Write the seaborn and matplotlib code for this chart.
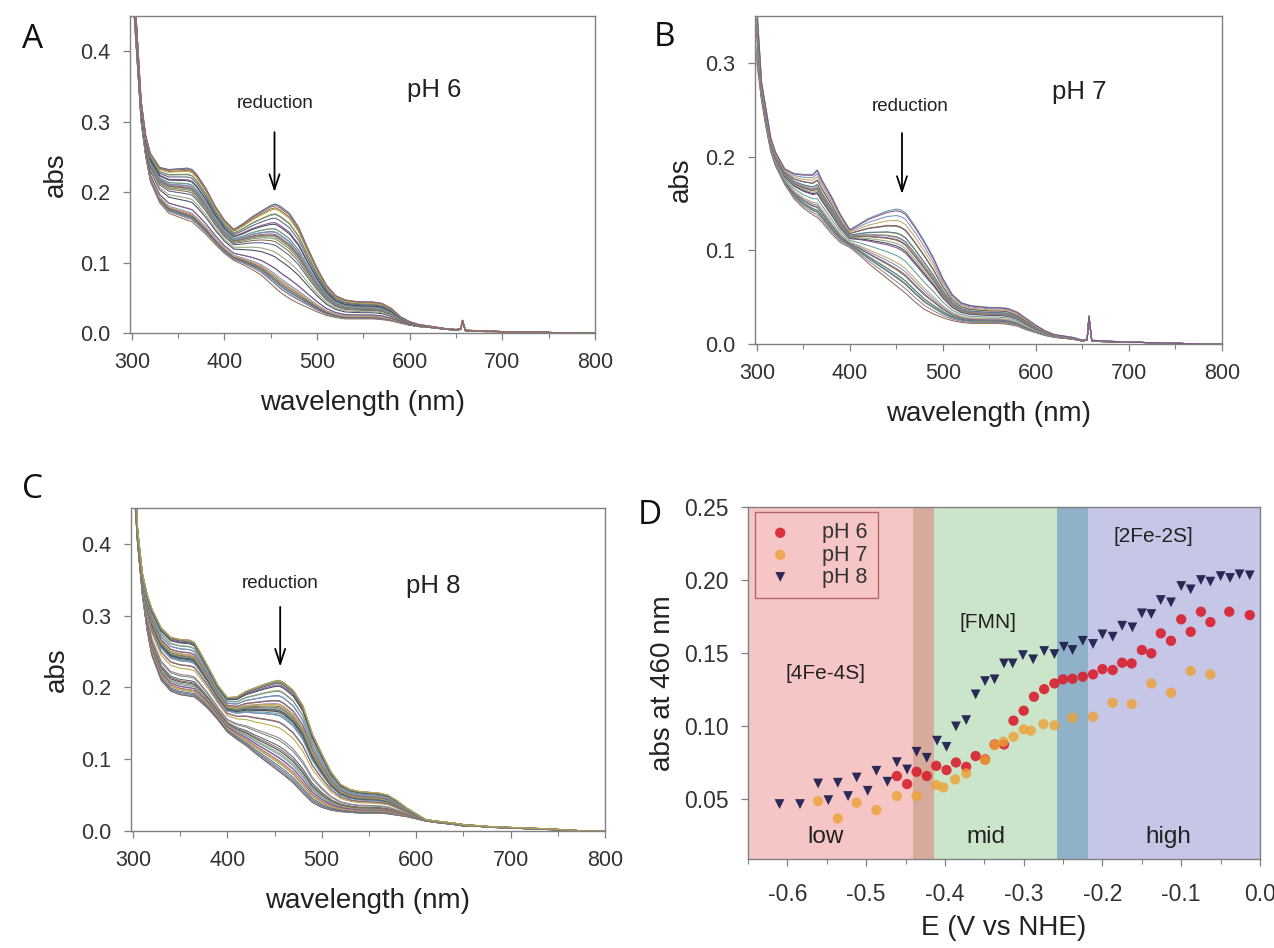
import numpy as np
import pandas as pd
import matplotlib
matplotlib.use("Agg")
import matplotlib.pyplot as plt
from matplotlib.ticker import MultipleLocator, FormatStrFormatter
import seaborn as sns

# ---------------- data ----------------
wavelength = [300, 305, 310, 315, 320, 330, 340, 350, 360, 365, 370, 380, 390, 400, 410,
              420, 430, 440, 450, 455, 460, 470, 480, 490, 500, 510, 520, 530, 540, 550,
              560, 570, 580, 590, 600, 610, 620, 640, 650, 655, 657, 660, 680, 700, 740,
              780, 800]

# pH 6 spectra: fully oxidised (top) and most reduced (bottom)
A_ox = [0.55, 0.44, 0.33, 0.28, 0.255, 0.235, 0.232, 0.233, 0.234, 0.232, 0.225, 0.205, 0.180,
        0.160, 0.147, 0.155, 0.165, 0.173, 0.181, 0.183, 0.180, 0.170, 0.150, 0.120, 0.092,
        0.068, 0.053, 0.047, 0.045, 0.044, 0.044, 0.042, 0.035, 0.023, 0.016, 0.012, 0.010,
        0.006, 0.005, 0.006, 0.018, 0.004, 0.003, 0.002, 0.001, 0.0, 0.0]
A_red = [0.50, 0.40, 0.30, 0.25, 0.215, 0.185, 0.170, 0.165, 0.160, 0.158, 0.152, 0.140, 0.126,
         0.113, 0.103, 0.097, 0.090, 0.082, 0.070, 0.064, 0.058, 0.049, 0.042, 0.036, 0.030,
         0.025, 0.022, 0.020, 0.020, 0.020, 0.020, 0.019, 0.017, 0.014, 0.011, 0.009, 0.008,
         0.005, 0.004, 0.005, 0.017, 0.003, 0.002, 0.002, 0.001, 0.0, 0.0]

# pH 7 spectra
B_ox = [0.36, 0.28, 0.25, 0.22, 0.205, 0.187, 0.182, 0.181, 0.181, 0.186, 0.175, 0.158, 0.138,
        0.122, 0.128, 0.134, 0.138, 0.142, 0.144, 0.143, 0.140, 0.126, 0.110, 0.092, 0.070,
        0.053, 0.044, 0.041, 0.040, 0.039, 0.039, 0.038, 0.034, 0.027, 0.020, 0.014, 0.010,
        0.007, 0.004, 0.005, 0.030, 0.004, 0.003, 0.002, 0.001, 0.0, 0.0]
B_red = [0.30, 0.26, 0.23, 0.205, 0.19, 0.17, 0.155, 0.145, 0.138, 0.135, 0.130, 0.118, 0.108,
         0.103, 0.095, 0.086, 0.078, 0.070, 0.062, 0.058, 0.054, 0.045, 0.037, 0.032, 0.028,
         0.025, 0.023, 0.022, 0.022, 0.022, 0.022, 0.021, 0.019, 0.015, 0.012, 0.009, 0.007,
         0.005, 0.003, 0.004, 0.028, 0.003, 0.002, 0.002, 0.001, 0.0, 0.0]

# pH 8 spectra
C_ox = [0.60, 0.42, 0.36, 0.33, 0.31, 0.283, 0.270, 0.267, 0.266, 0.263, 0.252, 0.228, 0.203,
        0.186, 0.187, 0.195, 0.200, 0.205, 0.209, 0.210, 0.207, 0.196, 0.175, 0.136, 0.108,
        0.082, 0.065, 0.058, 0.055, 0.054, 0.053, 0.050, 0.042, 0.032, 0.024, 0.016, 0.014,
        0.011, 0.009, 0.008, 0.008, 0.008, 0.006, 0.005, 0.003, 0.0, 0.0]
C_red = [0.50, 0.40, 0.33, 0.28, 0.245, 0.21, 0.195, 0.19, 0.188, 0.187, 0.182, 0.170, 0.155,
         0.138, 0.128, 0.119, 0.108, 0.098, 0.088, 0.083, 0.078, 0.067, 0.053, 0.040, 0.033,
         0.029, 0.027, 0.026, 0.025, 0.025, 0.025, 0.024, 0.022, 0.020, 0.017, 0.014, 0.012,
         0.009, 0.007, 0.007, 0.007, 0.007, 0.005, 0.004, 0.002, 0.0, 0.0]

# Panel D: absorbance at 460 nm vs potential
ph6_E = [-0.461, -0.448, -0.436, -0.423, -0.411, -0.398, -0.386, -0.373, -0.361, -0.349,
         -0.337, -0.325, -0.313, -0.300, -0.287, -0.274, -0.261, -0.250, -0.238, -0.225,
         -0.212, -0.200, -0.187, -0.175, -0.163, -0.150, -0.138, -0.126, -0.113, -0.100,
         -0.088, -0.075, -0.063, -0.039, -0.013]
ph6_abs = [0.0658, 0.0603, 0.0687, 0.0658, 0.0728, 0.0699, 0.0751, 0.0721, 0.0795, 0.0772,
           0.0874, 0.0874, 0.1037, 0.1105, 0.1201, 0.1253, 0.1292, 0.1320, 0.1324, 0.1338,
           0.1354, 0.1390, 0.1384, 0.1434, 0.1429, 0.1521, 0.1498, 0.1635, 0.1584, 0.1731,
           0.1646, 0.1783, 0.1712, 0.1783, 0.1760]

ph7_E = [-0.561, -0.536, -0.512, -0.487, -0.461, -0.436, -0.411, -0.402, -0.387, -0.373,
         -0.349, -0.337, -0.326, -0.313, -0.300, -0.291, -0.275, -0.261, -0.238, -0.212,
         -0.187, -0.163, -0.138, -0.113, -0.088, -0.063]
ph7_abs = [0.0486, 0.0368, 0.0475, 0.0425, 0.0521, 0.0521, 0.0596, 0.0580, 0.0635, 0.0676,
           0.0767, 0.0870, 0.0893, 0.0927, 0.0977, 0.0968, 0.1014, 0.1005, 0.1057, 0.1064,
           0.1160, 0.1151, 0.1292, 0.1228, 0.1377, 0.1354]

ph8_E = [-0.610, -0.584, -0.561, -0.548, -0.536, -0.523, -0.512, -0.498, -0.487, -0.473,
         -0.461, -0.448, -0.436, -0.423, -0.410, -0.398, -0.386, -0.373, -0.361, -0.349,
         -0.337, -0.325, -0.314, -0.301, -0.288, -0.274, -0.261, -0.249, -0.238, -0.225,
         -0.212, -0.200, -0.187, -0.175, -0.162, -0.150, -0.138, -0.126, -0.113, -0.100,
         -0.088, -0.075, -0.063, -0.050, -0.038, -0.026, -0.013]
ph8_abs = [0.0466, 0.0466, 0.0607, 0.0493, 0.0612, 0.0521, 0.0648, 0.0557, 0.0694, 0.0619,
           0.0753, 0.0703, 0.0824, 0.0783, 0.0900, 0.0858, 0.0998, 0.1041, 0.1217, 0.1308,
           0.1320, 0.1429, 0.1429, 0.1486, 0.1457, 0.1514, 0.1493, 0.1543, 0.1521, 0.1584,
           0.1562, 0.1628, 0.1612, 0.1687, 0.1676, 0.1772, 0.1767, 0.1863, 0.1847, 0.1959,
           0.1936, 0.2000, 0.1989, 0.2027, 0.2014, 0.2039, 0.2032]

# potential windows (shaded)
span_edges = [-0.65, -0.44, -0.414, -0.258, -0.218, 0.0]
span_colors = ["#f6c6c6", "#d6ab9c", "#cbe5cb", "#90b2c8", "#c6c6e6"]

trace_colors = ["#56627e", "#8a6d4f", "#6f8c6c", "#9b7fa6", "#b9a843", "#4c7c9c",
                "#a86464", "#6d6d6d", "#7a93c6", "#c7a565", "#5f9f9f", "#8c4f8c",
                "#3e4a5e", "#99a27a"]

# ---------------- style ----------------
sns.set_theme(style="white")
plt.rcParams["font.family"] = ["Liberation Sans", "DejaVu Sans"]

fig = plt.figure(figsize=(12.74, 9.48), dpi=100)
W, H = 1274, 948


def add_ax(l, r, t, b):
    return fig.add_axes([l / W, 1 - b / H, (r - l) / W, (b - t) / H])


axA = add_ax(130, 595, 16, 333)
axB = add_ax(755, 1222, 16, 344)
axC = add_ax(131, 605, 508, 831)
axD = add_ax(748, 1260, 507, 859)

tick_col = "#333333"
spine_col = "#808080"
txt_col = "#222222"


def style_axes(ax, lsize, xpad, ypad):
    for s in ax.spines.values():
        s.set_color(spine_col)
        s.set_linewidth(1.0)
    ax.tick_params(axis="both", which="major", direction="out", length=5, width=0.9,
                   color=spine_col, labelsize=lsize, labelcolor=tick_col, left=True,
                   bottom=True)
    ax.tick_params(axis="x", which="major", pad=xpad)
    ax.tick_params(axis="y", which="major", pad=ypad)
    ax.tick_params(axis="both", which="minor", direction="out", length=3.5, width=0.8,
                   color=spine_col, left=False, bottom=True)


def spectra_panel(ax, ox, red, levels, ylim, ytop_major, label_ph, red_txt, arrow, ph_txt):
    lv = np.array(levels)
    frac = (lv - lv.min()) / (lv.max() - lv.min())
    ox = np.array(ox)
    red = np.array(red)
    rows = []
    for k, f in enumerate(frac):
        vals = red + f * (ox - red)
        for w, v in zip(wavelength, vals):
            rows.append((k, w, v))
    df = pd.DataFrame(rows, columns=["trace", "wavelength", "abs"])
    pal = [trace_colors[i % len(trace_colors)] for i in range(len(frac))]
    sns.lineplot(data=df, x="wavelength", y="abs", hue="trace", palette=pal,
                 legend=False, linewidth=0.75, estimator=None, ax=ax)
    ax.set_xlim(298, 800)
    ax.set_ylim(*ylim)
    ax.xaxis.set_major_locator(MultipleLocator(100))
    ax.xaxis.set_minor_locator(MultipleLocator(50))
    ax.set_yticks(np.arange(0, ytop_major + 0.001, 0.1))
    ax.yaxis.set_major_formatter(FormatStrFormatter("%.1f"))
    ax.set_xlabel("wavelength (nm)", fontsize=20, color=txt_col, labelpad=12)
    ax.set_ylabel("abs", fontsize=20, color=txt_col, labelpad=8)
    style_axes(ax, 15.5, 9, 9)
    ax.text(red_txt[0], red_txt[1], "reduction", fontsize=13.5, ha="center", va="center",
            color=txt_col)
    ax.annotate("", xy=(arrow[0], arrow[2]), xytext=(arrow[0], arrow[1]),
                arrowprops=dict(arrowstyle="->,head_width=0.3,head_length=0.9",
                                color="black", lw=1.3))
    ax.text(ph_txt[0], ph_txt[1], label_ph, fontsize=18.5, ha="center", va="center",
            color=txt_col)


spectra_panel(axA, A_ox, A_red, ph6_abs, (0, 0.45), 0.4, "pH 6",
              (455, 0.326), (454, 0.289, 0.196), (626, 0.345))
spectra_panel(axB, B_ox, B_red, ph7_abs, (0, 0.35), 0.3, "pH 7",
              (465, 0.253), (456, 0.228, 0.157), (647, 0.269))
spectra_panel(axC, C_ox, C_red, ph8_abs, (0, 0.45), 0.4, "pH 8",
              (456, 0.345), (456, 0.316, 0.225), (618, 0.342))

# ---------------- panel D ----------------
for i, c in enumerate(span_colors):
    axD.axvspan(span_edges[i], span_edges[i + 1], color=c, lw=0, zorder=0)

sns.scatterplot(x=ph6_E, y=ph6_abs, ax=axD, color="#d8202e", marker="o", s=55,
                edgecolor="none", alpha=0.9, label="pH 6", zorder=3)
sns.scatterplot(x=ph7_E, y=ph7_abs, ax=axD, color="#eea135", marker="o", s=55,
                edgecolor="none", alpha=0.8, label="pH 7", zorder=3)
sns.scatterplot(x=ph8_E, y=ph8_abs, ax=axD, color="#20204f", marker="v", s=50,
                edgecolor="none", alpha=0.95, label="pH 8", zorder=3)

axD.set_xlim(-0.65, 0.0)
axD.set_ylim(0.009, 0.25)
axD.xaxis.set_major_locator(MultipleLocator(0.1))
axD.xaxis.set_minor_locator(MultipleLocator(0.05))
axD.set_yticks([0.05, 0.10, 0.15, 0.20, 0.25])
axD.yaxis.set_major_formatter(FormatStrFormatter("%.2f"))
axD.xaxis.set_major_formatter(FormatStrFormatter("%.1f"))
axD.set_xlabel("E (V vs NHE)", fontsize=20, color=txt_col, labelpad=7)
axD.set_ylabel("abs at 460 nm", fontsize=20, color=txt_col, labelpad=6)
style_axes(axD, 16.5, 12, 9)

leg = axD.legend(loc="upper left", bbox_to_anchor=(-0.6405, 0.2468),
                 bbox_transform=axD.transData, borderaxespad=0, frameon=True,
                 fancybox=False, fontsize=15.5, handletextpad=1.3, labelspacing=0.05,
                 borderpad=0.5, scatterpoints=1, handlelength=1.3)
leg.get_frame().set_edgecolor("#a45050")
leg.get_frame().set_facecolor("none")
leg.get_frame().set_linewidth(1.0)
for t in leg.get_texts():
    t.set_color("#333333")

for txt, x, y, fs in [("[4Fe-4S]", -0.551, 0.136, 15), ("[FMN]", -0.345, 0.171, 15),
                      ("[2Fe-2S]", -0.135, 0.230, 15), ("low", -0.552, 0.024, 17.5),
                      ("mid", -0.348, 0.024, 17.5), ("high", -0.117, 0.024, 17.5)]:
    axD.text(x, y, txt, fontsize=fs, ha="center", va="center", color=txt_col, zorder=4)

# panel letters
for letter, x, y in [("A", 22, 40), ("B", 654, 38), ("C", 22, 490), ("D", 638, 515)]:
    fig.text(x / W, 1 - y / H, letter, fontsize=24, ha="left", va="center",
             family=["Open Sans", "DejaVu Sans"], color="#111111")

fig.savefig("out.png", dpi=100)
